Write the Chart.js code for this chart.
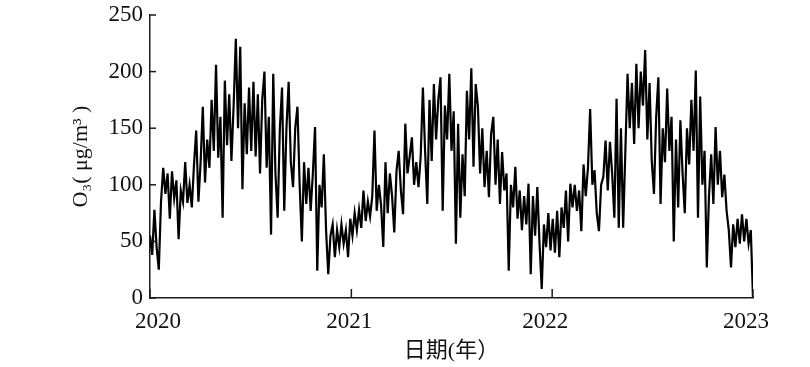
<!DOCTYPE html>
<html>
<head>
<meta charset="utf-8">
<script src="https://cdn.jsdelivr.net/npm/chart.js@4.4.0/dist/chart.umd.min.js"></script>
<style>
  body { margin: 0; background: #ffffff; }
</style>
</head>
<body>
<canvas id="myChart" width="810" height="367"></canvas>
<script>

// days between two samples, every ~2 px
var stepDays = 4;

// year ticks (day offset from 2020-01-01) and their labels
var yearTicks = [0, 366, 731, 1096];
var yearLabels = ['2020', '2021', '2022', '2023'];

var yTicks = [0, 50, 100, 150, 200, 250];

// O3 daily values (ug/m3), sampled every 4 days
var o3Values = [
  55, 38, 78, 45, 25, 85, 115, 92, 110, 70,
  112, 88, 104, 52, 95, 85, 120, 84, 100, 80,
  118, 148, 85, 120, 169, 102, 140, 115, 175, 130,
  206, 124, 160, 71, 192, 135, 180, 121, 170, 229,
  150, 222, 96, 172, 127, 186, 130, 191, 125, 180,
  110, 175, 200, 115, 160, 56, 198, 110, 71, 150,
  186, 77, 150, 191, 120, 98, 150, 169, 100, 50,
  120, 83, 115, 77, 110, 151, 24, 100, 80, 127,
  60, 21, 55, 65, 36, 60, 45, 65, 48, 60,
  36, 70, 55, 75, 60, 78, 62, 95, 68, 85,
  72, 90, 148, 77, 100, 82, 45, 120, 75, 110,
  90, 58, 112, 130, 95, 74, 154, 110, 125, 142,
  100, 120, 98, 125, 186, 130, 83, 175, 121, 189,
  140, 175, 195, 77, 170, 140, 198, 130, 165, 48,
  154, 71, 127, 90, 183, 140, 203, 116, 189, 169,
  110, 150, 98, 130, 89, 145, 160, 100, 140, 83,
  129, 95, 110, 24, 100, 80, 116, 70, 95, 60,
  90, 65, 101, 21, 90, 55, 98, 48, 8, 65,
  45, 75, 42, 70, 40, 77, 36, 80, 62, 95,
  50, 101, 80, 100, 77, 95, 59, 118, 90, 115,
  167, 100, 113, 75, 59, 100, 107, 139, 95, 138,
  110, 71, 176, 62, 150, 62, 130, 198, 150, 190,
  136, 207, 150, 200, 170, 219, 140, 190, 121, 92,
  160, 195, 83, 150, 120, 185, 130, 160, 50, 140,
  80, 157, 110, 75, 150, 118, 175, 130, 201, 71,
  178, 100, 130, 27, 90, 127, 83, 151, 100, 130,
  89, 109, 77, 60, 27, 65, 45, 70, 48, 74,
  50, 70, 48, 60, 0
];

var serif = "'Liberation Serif', 'Times New Roman', serif";
var cjk = "'Liberation Serif', 'Noto Sans CJK SC', serif";

// the year labels in the original sit a little off their ticks
var labelShift = [8, -2, -7, -7];

var points = [];
for (var i = 0; i < o3Values.length; i++) {
  points.push({ x: i * stepDays, y: o3Values[i] });
}

// short tick marks pointing into the plot + year labels
var innerTicks = {
  id: 'innerTicks',
  afterDatasetsDraw: function(chart) {
    var ctx = chart.ctx;
    var area = chart.chartArea;
    var xs = chart.scales.x;
    var ys = chart.scales.y;
    ctx.save();
    ctx.strokeStyle = '#1a1a1a';
    ctx.lineWidth = 1.5;
    ys.ticks.forEach(function(t) {
      var py = ys.getPixelForValue(t.value);
      ctx.beginPath();
      ctx.moveTo(area.left, py);
      ctx.lineTo(area.left + 6, py);
      ctx.stroke();
    });
    xs.ticks.forEach(function(t) {
      var px = xs.getPixelForValue(t.value);
      ctx.beginPath();
      ctx.moveTo(px, area.bottom);
      ctx.lineTo(px, area.bottom - 9);
      ctx.stroke();
    });
    ctx.fillStyle = '#111111';
    ctx.font = '23px ' + serif;
    ctx.textAlign = 'center';
    ctx.textBaseline = 'alphabetic';
    for (var j = 0; j < yearTicks.length; j++) {
      var lx = xs.getPixelForValue(yearTicks[j]) + labelShift[j];
      ctx.fillText(yearLabels[j], lx, area.bottom + 30);
    }
    ctx.restore();
  }
};

var ctx = document.getElementById('myChart').getContext('2d');
var myChart = new Chart(ctx, {
  type: 'line',
  data: {
    datasets: [{
      data: points,
      borderColor: '#000000',
      borderWidth: 2.2,
      pointRadius: 0,
      tension: 0,
      fill: false
    }]
  },
  options: {
    responsive: false,
    animation: false,
    layout: { padding: { top: 15, right: 57, bottom: 2, left: 64 } },
    plugins: {
      legend: { display: false },
      tooltip: { enabled: false }
    },
    scales: {
      x: {
        type: 'linear',
        min: yearTicks[0],
        max: yearTicks[yearTicks.length - 1],
        afterBuildTicks: function(scale) {
          scale.ticks = yearTicks.map(function(v) { return { value: v }; });
        },
        afterFit: function(scale) { scale.height = 67; },
        grid: { display: false, drawTicks: false },
        border: { display: true, color: '#1a1a1a', width: 1.5 },
        ticks: { display: false },
        title: {
          display: true,
          text: '日期(年）',
          color: '#111111',
          font: { family: cjk, size: 22 },
          padding: { top: 2, bottom: 1 }
        }
      },
      y: {
        min: 0,
        max: 250,
        afterBuildTicks: function(scale) {
          scale.ticks = yTicks.map(function(v) { return { value: v }; });
        },
        afterFit: function(scale) {
          scale.width = 86;
          // let the top label hang over the padding
          scale.paddingTop = 0;
          scale.paddingBottom = 0;
        },
        grid: { display: false, drawTicks: false },
        border: { display: true, color: '#1a1a1a', width: 1.5 },
        ticks: {
          color: '#111111',
          font: { family: serif, size: 23 },
          padding: 7
        },
        title: {
          display: true,
          text: 'O₃( μg/m³ )',
          color: '#111111',
          font: { family: serif, size: 22 },
          padding: { top: 4, bottom: 0 }
        }
      }
    }
  },
  plugins: [innerTicks]
});

</script>
</body>
</html>
